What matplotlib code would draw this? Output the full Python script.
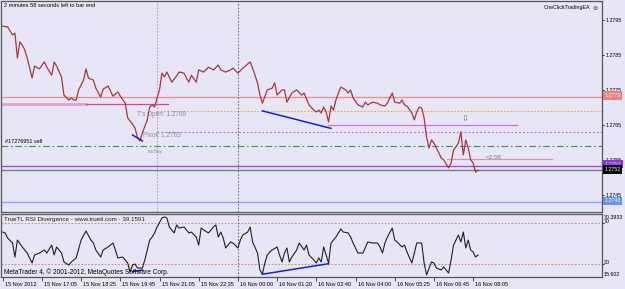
import matplotlib
matplotlib.use('Agg')
import matplotlib.pyplot as plt
from matplotlib import transforms

plt.rcParams['font.family'] = ['Liberation Sans', 'DejaVu Sans']

#%% data (bar index, value)
price_bar = [0, 2, 4, 5, 6, 7, 8, 9, 10, 12, 13, 15, 17, 18, 20, 21, 22, 24, 25, 27, 28, 29, 30, 31,
             33, 34, 35, 37, 38, 40, 41, 43, 45, 47, 48, 50, 51, 53, 54, 55, 56, 57, 59, 60, 61, 62,
             63, 64, 65, 66, 67, 69, 71, 72, 74, 75, 76, 77, 79, 80, 82, 84, 86, 88, 89, 91, 93, 94,
             96, 98, 99, 101, 102, 104, 105, 106, 108, 110, 111, 112, 114, 115, 116, 118, 120, 122,
             123, 125, 127, 128, 129, 130, 131, 132, 133, 134, 135, 136, 137, 138, 140, 141, 142, 143,
             145, 147, 148, 149, 151, 153, 154, 156, 157, 158, 159, 160, 162, 163, 164, 165, 167, 168,
             169, 170, 171, 172, 173, 174, 175, 176, 178, 179, 180, 182, 183, 184, 185, 186, 187, 188,
             189, 190, 191, 192, 193, 194]
price_close = [1.27931, 1.27929, 1.27906, 1.27911, 1.27840, 1.27886, 1.27877, 1.27863, 1.27840, 1.27783,
               1.27817, 1.27809, 1.27829, 1.27814, 1.27791, 1.27829, 1.27817, 1.27786, 1.27734, 1.27720,
               1.27726, 1.27720, 1.27720, 1.27749, 1.27777, 1.27809, 1.27783, 1.27777, 1.27754, 1.27729,
               1.27751, 1.27760, 1.27731, 1.27743, 1.27731, 1.27711, 1.27669, 1.27651, 1.27640, 1.27614,
               1.27603, 1.27626, 1.27663, 1.27700, 1.27706, 1.27700, 1.27726, 1.27749, 1.27797, 1.27786,
               1.27800, 1.27771, 1.27789, 1.27800, 1.27797, 1.27783, 1.27771, 1.27791, 1.27771, 1.27806,
               1.27800, 1.27814, 1.27806, 1.27820, 1.27806, 1.27800, 1.27806, 1.27811, 1.27797, 1.27811,
               1.27817, 1.27829, 1.27811, 1.27769, 1.27734, 1.27711, 1.27749, 1.27754, 1.27769, 1.27734,
               1.27749, 1.27749, 1.27714, 1.27740, 1.27749, 1.27734, 1.27740, 1.27706, 1.27691, 1.27686,
               1.27691, 1.27683, 1.27700, 1.27686, 1.27657, 1.27703, 1.27691, 1.27720, 1.27740, 1.27757,
               1.27749, 1.27740, 1.27749, 1.27726, 1.27706, 1.27700, 1.27714, 1.27706, 1.27714, 1.27711,
               1.27706, 1.27703, 1.27711, 1.27726, 1.27740, 1.27714, 1.27711, 1.27720, 1.27706, 1.27703,
               1.27683, 1.27663, 1.27686, 1.27700, 1.27697, 1.27669, 1.27614, 1.27583, 1.27606, 1.27597,
               1.27569, 1.27554, 1.27549, 1.27526, 1.27540, 1.27577, 1.27586, 1.27597, 1.27629, 1.27563,
               1.27606, 1.27583, 1.27549, 1.27540, 1.27514, 1.27520]

rsi_bar = [0, 1, 2, 4, 5, 6, 8, 10, 12, 13, 15, 17, 18, 20, 21, 22, 24, 25, 27, 28, 30, 32, 34, 36, 37,
           38, 40, 41, 43, 45, 46, 47, 49, 51, 52, 53, 54, 55, 57, 58, 59, 60, 61, 62, 63, 65, 66, 67,
           68, 70, 71, 72, 74, 76, 77, 79, 80, 81, 82, 84, 86, 87, 88, 89, 90, 91, 93, 94, 96, 97, 98,
           100, 101, 102, 104, 105, 106, 107, 108, 109, 110, 112, 113, 114, 115, 116, 117, 118, 120,
           121, 123, 124, 125, 127, 128, 129, 130, 131, 132, 133, 134, 136, 137, 138, 139, 141, 142,
           143, 145, 147, 149, 151, 153, 154, 155, 156, 157, 159, 160, 161, 163, 164, 165, 167, 168,
           169, 171, 172, 173, 175, 176, 177, 179, 180, 182, 183, 184, 185, 186, 187, 188, 189, 190,
           191, 192, 193, 194]
rsi_val = [60.9, 60.0, 55.1, 50.2, 36.5, 53.1, 46.3, 40.4, 30.7, 38.5, 40.4, 43.4, 40.4, 48.2, 38.5,
           46.3, 40.4, 31.7, 28.7, 31.7, 35.6, 53.1, 61.9, 53.1, 50.2, 43.4, 36.5, 43.4, 46.3, 50.2,
           43.4, 35.6, 36.5, 30.7, 21.9, 28.7, 29.7, 25.8, 25.8, 33.6, 43.4, 53.1, 56.0, 60.0, 65.8,
           74.6, 75.6, 74.6, 65.8, 60.0, 67.8, 64.8, 65.8, 60.0, 60.9, 56.0, 48.2, 64.8, 62.9, 60.0,
           65.8, 67.8, 56.0, 60.9, 55.1, 45.3, 51.2, 50.2, 45.3, 53.1, 58.0, 60.9, 65.8, 51.2, 40.4,
           23.9, 20.0, 30.7, 38.5, 41.4, 43.4, 46.3, 38.5, 31.7, 40.4, 45.3, 31.7, 36.5, 43.4, 50.2,
           43.4, 48.2, 38.5, 33.6, 30.7, 35.6, 31.7, 46.3, 38.5, 30.7, 50.2, 56.0, 60.0, 63.9, 60.9,
           60.0, 56.0, 50.2, 40.4, 40.4, 51.2, 50.2, 50.2, 46.3, 40.4, 50.2, 56.0, 64.8, 53.1, 51.2,
           46.3, 48.2, 41.4, 30.7, 40.4, 50.2, 50.2, 30.7, 19.0, 31.7, 30.7, 25.8, 23.9, 26.8, 20.9,
           33.6, 48.2, 53.1, 58.0, 51.2, 60.9, 45.3, 53.1, 43.4, 41.4, 36.5, 38.5]

# horizontal levels
ask_level = 1.2773
topen_level = 1.2769
pivot_level = 1.2763
order_level = 1.2759
purple_level = 1.27531
bid_level = 1.2752
low_level = 1.2743
# short segments: (start bar, end bar, price)
seg_old = (-1, 34, 1.27709)
seg_today = (34, 67.5, 1.27709)
seg_mid = (132.8, 209.9, 1.27650)
seg_timer = (181.3, 224.2, 1.27551)
# divergence lines
div1_bar, div1_price = [53, 57], [1.27620, 1.27603]
div2_bar, div2_price = [106, 134], [1.27689, 1.27639]
rdiv1_bar, rdiv1_val = [53, 57], [22.2, 23.9]
rdiv2_bar, rdiv2_val = [106, 133], [19.7, 30.0]
today_bar = 63
day_bar = 96

price_ticks = [1.2795, 1.2785, 1.2775, 1.2765, 1.2755, 1.2745]
time_ticks = [0, 16, 32, 48, 64, 80, 96, 112, 128, 144, 160, 176, 192]
time_labels = ['15 Nov 2012', '15 Nov 17:05', '15 Nov 18:25', '15 Nov 19:45', '15 Nov 21:05',
               '15 Nov 22:35', '16 Nov 00:00', '16 Nov 01:20', '16 Nov 02:40', '16 Nov 04:00',
               '16 Nov 05:25', '16 Nov 06:45', '16 Nov 08:05']

#%% figure
W, H = 625, 289
bg = '#E6E6F7'
fig = plt.figure(figsize=(W / 100, H / 100), dpi=100, facecolor=bg)


def fx(x):
    return x / W


def fy(y):
    return 1 - y / H


ax = fig.add_axes([fx(1.5), fy(212), fx(602) - fx(1.5), fy(1) - fy(212)], facecolor=bg)
ax2 = fig.add_axes([fx(1.5), fy(277), fx(602) - fx(1.5), fy(213.5) - fy(277)], facecolor=bg)

for a in (ax, ax2):
    a.set_xlim(-0.49, 244.6)
    for s in a.spines.values():
        s.set_color('#555555')
        s.set_linewidth(0.9)
ax.set_ylim(1.27400, 1.28003)
ax2.set_ylim(17.02, 78.98)

# price panel lines
ax.axhline(ask_level, color='#F08C8C', lw=0.9)
ax.plot([today_bar, 245], [topen_level] * 2, color='#FFA828', lw=0.8, ls=(0, (1.5, 1.5)))
ax.plot([today_bar, 245], [pivot_level] * 2, color='#E050E0', lw=0.8, ls=(0, (1.5, 2)))
ax.axhline(order_level, color='#4A8A50', lw=0.8, ls=(0, (6, 2.5, 1.5, 2.5)))
ax.axhline(purple_level, color='#A050E0', lw=1.0)
ax.axhline(bid_level, color='#6E8080', lw=1.0)
ax.axhline(low_level, color='#90A8F0', lw=1.0)
ax.plot(seg_old[:2], [seg_old[2]] * 2, color='#E0A0D0', lw=2.0)
ax.plot(seg_today[:2], [seg_today[2]] * 2, color='#D8409F', lw=0.9)
ax.plot(seg_mid[:2], [seg_mid[2]] * 2, color='#E070B8', lw=0.9)
ax.plot(seg_timer[:2], [seg_timer[2]] * 2, color='#E090B8', lw=0.9)
ax.axvline(today_bar, color='#A8A8B0', lw=0.8, ls=(0, (1.5, 1.5)))
ax.axvline(day_bar, color='#707070', lw=0.8, ls=(0, (1.5, 1.5)))

ax.plot(price_bar, price_close, color='#A83838', lw=0.9)
ax.plot(div1_bar, div1_price, color='#1020E0', lw=1.1)
ax.plot(div2_bar, div2_price, color='#1020E0', lw=1.1)

ax.set_xticks([])
ax.yaxis.tick_right()
ax.set_yticks(price_ticks)
ax.set_yticklabels(['%.4f' % p for p in price_ticks])
ax.tick_params(axis='y', length=1.5, width=0.6, pad=0.8, labelsize=3.8, colors='black')

# rsi panel
ax2.axhline(70, color='#D09070', lw=0.8, ls=(0, (1.5, 1.5)))
ax2.axhline(30, color='#D09070', lw=0.8, ls=(0, (1.5, 1.5)))
ax2.axvline(day_bar, color='#707070', lw=0.8, ls=(0, (1.5, 1.5)))
ax2.plot(rsi_bar, rsi_val, color='#202020', lw=0.8)
ax2.plot(rdiv1_bar, rdiv1_val, color='#1020E0', lw=1.1)
ax2.plot(rdiv2_bar, rdiv2_val, color='#1020E0', lw=1.1)
ax2.yaxis.tick_right()
ax2.set_yticks([70, 30])
ax2.set_yticklabels(['', ''])
ax2.tick_params(axis='y', length=1.5, width=0.6)
ax2.set_xticks(time_ticks)
ax2.set_xticklabels([''] * len(time_ticks))
ax2.tick_params(axis='x', length=3, width=0.6, direction='out', colors='#333333')

lab_tr = transforms.blended_transform_factory(ax2.transData, fig.transFigure)
lab_tr = lab_tr + transforms.ScaledTranslation(2 / 100, 0, fig.dpi_scale_trans)
for t, lab in zip(time_ticks, time_labels):
    ax2.text(t, fy(284), lab, transform=lab_tr, fontsize=4, ha='left', va='center', color='black')

# texts
fig.text(fx(4), fy(5.5), '2 minutes 58 seconds left to bar end', fontsize=4.1, va='center')
fig.text(fx(590), fy(8), 'OneClickTradingEA', fontsize=3.8, ha='right', va='center')
fig.text(fx(595), fy(8), '\u229c', fontsize=4.5, ha='center', va='center', color='#404040')
fig.text(fx(137), fy(114.3), "T's Open: 1.2769", fontsize=4.7, va='center', color='#8C8C8C')
fig.text(fx(143), fy(135), 'Pivot: 1.2763', fontsize=4.7, va='center', color='#8C8C8C')
fig.text(fx(148), fy(151), 'today', fontsize=4.5, va='center', color='#9A9AA8')
fig.text(fx(5), fy(141.7), '#17276951 sell', fontsize=4, va='center', color='black')
fig.text(fx(486), fy(157.5), '<2:58', fontsize=4.5, va='center', color='#808080')
fig.text(fx(465), fy(119), '\u21e9', fontsize=6, ha='center', va='center', color='#30A030',
         family='DejaVu Sans')
fig.text(fx(4), fy(220), 'TrueTL RSI Divergence - www.truetl.com - 39.1591', fontsize=4.5,
         va='center', color='#202020')
fig.text(fx(3.5), fy(272.3), 'MetaTrader 4, \u00a9 2001-2012, MetaQuotes Software Corp.', fontsize=4.7,
         va='center', color='black')

# right labels
fig.text(fx(604), fy(217.5), '70.3933', fontsize=3.8, va='center')
fig.text(fx(604), fy(221.5), '70', fontsize=3.8, va='center')
fig.text(fx(604), fy(263), '30', fontsize=3.8, va='center')
fig.text(fx(604), fy(275), '15.602', fontsize=3.8, va='center')

box = dict(boxstyle='square,pad=0.35', ec='none')
fig.text(fx(604.5), fy(95.8), '1.2773', fontsize=3.8, va='center', color='white', bbox=dict(box, fc='#F08080'))
fig.text(fx(604.5), fy(164), '1.2753', fontsize=3.8, va='center', color='#D8C0F0', bbox=dict(box, fc='#9030E0'))
fig.text(fx(604.5), fy(169.5), '1.2752', fontsize=3.8, va='center', color='white', bbox=dict(box, fc='black'))
fig.text(fx(604.5), fy(201), '1.2743', fontsize=3.8, va='center', color='white', bbox=dict(box, fc='#6495ED'))

fig.savefig('out.png', dpi=100, facecolor=bg)
